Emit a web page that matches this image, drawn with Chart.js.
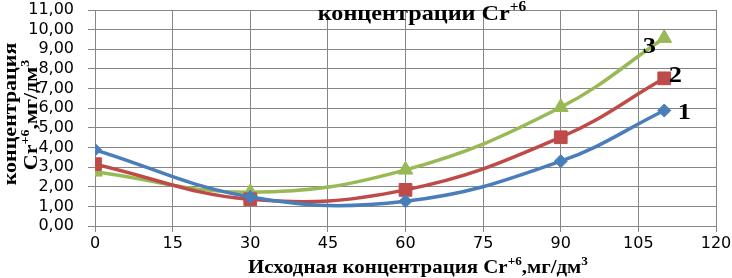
<!DOCTYPE html>
<html>
<head>
<meta charset="utf-8">
<script src="https://cdn.jsdelivr.net/npm/chart.js@4.4.0/dist/chart.umd.min.js"></script>
<style>
  html, body { margin: 0; padding: 0; background: #fff; }
  #wrap { width: 732px; height: 278px; }
</style>
</head>
<body>
<div id="wrap"><canvas id="chart" width="732" height="278"></canvas></div>
<script>
// исходные данные
const xValues = [0, 30, 60, 90, 110];
const series1 = [3.88, 1.48, 1.26, 3.3, 5.88];
const series2 = [3.15, 1.36, 1.84, 4.52, 7.52];
const series3 = [2.76, 1.72, 2.86, 6.05, 9.57];
const seriesLabels = ['1', '2', '3'];
const seriesColors = ['#4a7ebb', '#be4b48', '#98b954'];
const seriesMarkers = ['rectRot', 'rect', 'triangle'];

const serif = '"Liberation Serif", "DejaVu Serif", serif';
const sans = '"DejaVu Sans", sans-serif';

function toPoints(ys) {
  return xValues.map((x, i) => ({ x: x, y: ys[i] }));
}

// текст с верхними индексами, растянутый по горизонтали
function drawRich(ctx, parts, x, y, size, stretch) {
  const supSize = Math.round(size * 0.65);
  let total = 0;
  parts.forEach(p => {
    ctx.font = 'bold ' + (p[1] ? supSize : size) + 'px ' + serif;
    total += ctx.measureText(p[0]).width;
  });
  ctx.save();
  ctx.translate(x, y);
  ctx.scale(stretch, 1);
  let cx = -total / 2;
  ctx.textBaseline = 'alphabetic';
  ctx.textAlign = 'left';
  parts.forEach(p => {
    ctx.font = 'bold ' + (p[1] ? supSize : size) + 'px ' + serif;
    ctx.fillText(p[0], cx, p[1] ? -size * 0.4 : 0);
    cx += ctx.measureText(p[0]).width;
  });
  ctx.restore();
}

const textPlugin = {
  id: 'texts',
  afterDraw(chart) {
    const ctx = chart.ctx;
    ctx.save();
    ctx.fillStyle = '#000';
    // заголовок (верхняя строка обрезана)
    drawRich(ctx, [['концентрации Cr', false], ['+6', true]], 422, 20, 22, 1.1);
    // подпись оси X
    drawRich(ctx, [['Исходная концентрация Cr', false], ['+6', true], [',мг/дм', false], ['3', true]], 418, 273, 19, 1.1);
    // подпись оси Y
    ctx.save();
    ctx.rotate(-Math.PI / 2);
    ctx.scale(1, 0.85);
    drawRich(ctx, [['концентрация', false]], -114, 19, 22, 1);
    drawRich(ctx, [['Cr', false], ['+6', true], [',мг/дм', false], ['3', true]], -115, 43, 22, 1);
    ctx.restore();
    // номера кривых
    const xs = chart.scales.x, ys = chart.scales.y;
    const offs = [[20, 2], [11, -3], [-15, 9]];
    chart.data.datasets.forEach((ds, i) => {
      const last = ds.data[ds.data.length - 1];
      const px = xs.getPixelForValue(last.x) + offs[i][0];
      const py = ys.getPixelForValue(last.y) + offs[i][1];
      ctx.save();
      ctx.translate(px, py);
      ctx.scale(1.1, 1);
      ctx.font = 'bold 24px ' + serif;
      ctx.textAlign = 'center';
      ctx.textBaseline = 'middle';
      ctx.fillText(seriesLabels[i], 0, 0);
      ctx.restore();
    });
    ctx.restore();
  }
};

const allSeries = [series1, series2, series3];

new Chart(document.getElementById('chart'), {
  type: 'line',
  data: {
    datasets: allSeries.map((s, i) => ({
      label: seriesLabels[i],
      data: toPoints(s),
      borderColor: seriesColors[i],
      backgroundColor: seriesColors[i],
      borderWidth: 3.5,
      pointStyle: seriesMarkers[i],
      pointRadius: [6.5, 9, 8.5][i],
      pointBorderWidth: 1,
      tension: 0.4,
      fill: false
    }))
  },
  options: {
    responsive: false,
    animation: false,
    layout: { padding: { left: 0, right: 16, top: 10, bottom: 0 } },
    plugins: { legend: { display: false }, tooltip: { enabled: false } },
    scales: {
      x: {
        type: 'linear',
        min: 0,
        max: 120,
        afterFit(scale) {
          scale.height = 52;
          scale.paddingLeft = 0;
          scale.paddingRight = 0;
        },
        ticks: {
          stepSize: 15,
          autoSkip: false,
          maxRotation: 0,
          color: '#000',
          padding: 2,
          font: { family: sans, size: 16 }
        },
        grid: { color: '#868686', lineWidth: 1, tickLength: 6 },
        border: { color: '#868686' }
      },
      y: {
        min: 0,
        max: 11,
        afterFit(scale) {
          scale.width = 95;
          scale.paddingTop = 0;
          scale.paddingBottom = 0;
        },
        ticks: {
          stepSize: 1,
          autoSkip: false,
          color: '#000',
          padding: 14,
          font: { family: sans, size: 16 },
          callback: v => v.toFixed(2).replace('.', ',')
        },
        grid: { color: '#868686', lineWidth: 1, tickLength: 7 },
        border: { color: '#868686' }
      }
    }
  },
  plugins: [textPlugin]
});
</script>
</body>
</html>
